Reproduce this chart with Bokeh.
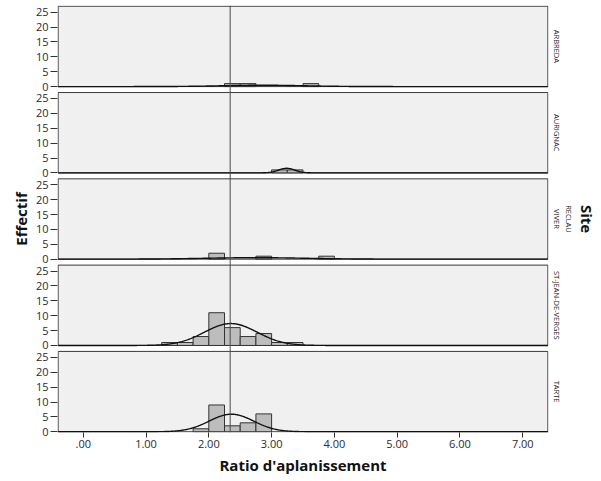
import numpy as np
from bokeh.plotting import figure
from bokeh.models import Range1d, FixedTicker, Span, LinearAxis
from bokeh.embed import file_html
from bokeh.resources import INLINE

# ---------------- data ----------------
SITES = ["ARBREDA", "AURIGNAC", "RECLAU\nVIVER", "ST-JEAN-DE-VERGES", "TARTE"]
BIN_WIDTH = 0.25

ARBREDA_BINS = [2.25, 2.50, 3.50]
ARBREDA_COUNTS = [1, 1, 1]
AURIGNAC_BINS = [3.00, 3.25]
AURIGNAC_COUNTS = [1, 1]
RECLAU_BINS = [2.00, 2.75, 3.75]
RECLAU_COUNTS = [2, 1, 1]
STJEAN_BINS = [1.25, 1.50, 1.75, 2.00, 2.25, 2.50, 2.75, 3.00, 3.25]
STJEAN_COUNTS = [1, 1, 3, 11, 6, 3, 4, 1, 1]
TARTE_BINS = [1.75, 2.00, 2.25, 2.50, 2.75]
TARTE_COUNTS = [1, 9, 2, 3, 6]

# fitted normal curve parameters per site (mean, standard deviation)
FIT_MEAN = [2.87, 3.24, 2.75, 2.35, 2.36]
FIT_SD = [0.66, 0.13, 0.80, 0.42, 0.355]
OVERALL_MEAN = 2.34

YTICKS = [0, 5, 10, 15, 20, 25]
XTICKS = [0, 1, 2, 3, 4, 5, 6, 7]
XTICK_LABELS = [".00", "1.00", "2.00", "3.00", "4.00", "5.00", "6.00", "7.00"]

ALL_BINS = [ARBREDA_BINS, AURIGNAC_BINS, RECLAU_BINS, STJEAN_BINS, TARTE_BINS]
ALL_COUNTS = [ARBREDA_COUNTS, AURIGNAC_COUNTS, RECLAU_COUNTS, STJEAN_COUNTS, TARTE_COUNTS]

# ---------------- layout ----------------
FONT = "Open Sans"
N = len(SITES)
PANEL_SPAN = 27
PITCH = 29
X0, X1 = -0.40, 7.40
offsets = [(N - 1 - i) * PITCH for i in range(N)]

p = figure(width=601, height=481,
           x_range=Range1d(X0 - 0.01, X1 + 0.01),
           y_range=Range1d(-0.25, offsets[0] + PANEL_SPAN + 0.25),
           output_backend="svg", toolbar_location=None,
           min_border_left=57, min_border_right=53,
           min_border_top=5, min_border_bottom=49)
p.background_fill_color = "white"
p.border_fill_color = "white"
p.outline_line_color = None
p.xgrid.visible = False
p.ygrid.visible = False

# panels
p.quad(left=[X0] * N, right=[X1] * N, bottom=offsets,
       top=[o + PANEL_SPAN for o in offsets],
       fill_color="#f0f0f0", line_color="#3a3a3a", line_width=1)

xs = np.linspace(X0, X1, 600)
for i in range(N):
    off = offsets[i]
    bins = np.array(ALL_BINS[i], dtype=float)
    counts = np.array(ALL_COUNTS[i], dtype=float)
    p.quad(left=bins, right=bins + BIN_WIDTH, bottom=[off] * len(bins),
           top=off + counts, fill_color="#bdbdbd", line_color="#333333",
           line_width=1)
    n = counts.sum()
    mu, sd = FIT_MEAN[i], FIT_SD[i]
    curve = n * BIN_WIDTH * np.exp(-0.5 * ((xs - mu) / sd) ** 2) / (sd * np.sqrt(2 * np.pi))
    p.line(xs, off + curve, line_color="#111111", line_width=1.4)

p.add_layout(Span(location=OVERALL_MEAN, dimension="height",
                  line_color="#4a4a4a", line_width=1))

# y axis
yt = [o + v for o in offsets for v in YTICKS]
p.yaxis.ticker = FixedTicker(ticks=yt, minor_ticks=[])
p.yaxis.major_label_overrides = {o + v: str(v) for o in offsets for v in YTICKS}
p.yaxis.axis_line_color = None
p.yaxis.major_tick_in = 0
p.yaxis.major_tick_out = 7
p.yaxis.major_tick_line_color = "#333333"
p.yaxis.major_label_standoff = 2
p.yaxis.major_label_text_font = FONT
p.yaxis.major_label_text_font_size = "11px"
p.yaxis.major_label_text_color = "#2b2b2b"
p.yaxis.axis_label = "Effectif"
p.yaxis.axis_label_text_font = FONT
p.yaxis.axis_label_text_font_size = "15px"
p.yaxis.axis_label_text_font_style = "bold"
p.yaxis.axis_label_text_color = "#111111"
p.yaxis.axis_label_standoff = 2

# right-hand site labels
centers = [o + PANEL_SPAN / 2 for o in offsets]
site_axis = LinearAxis(ticker=FixedTicker(ticks=centers, minor_ticks=[]),
                       major_label_overrides=dict(zip(centers, SITES)),
                       axis_line_color=None, major_tick_in=0, major_tick_out=0,
                       major_label_standoff=3,
                       major_label_orientation="parallel",
                       major_label_text_font=FONT,
                       major_label_text_font_size="7.5px",
                       major_label_text_color="#222222",
                       axis_label="Site", axis_label_text_font=FONT,
                       axis_label_text_font_size="15px",
                       axis_label_text_font_style="bold",
                       axis_label_text_color="#111111",
                       axis_label_standoff=0)
p.add_layout(site_axis, "right")

# x axis
p.xaxis.ticker = FixedTicker(ticks=XTICKS, minor_ticks=[])
p.xaxis.major_label_overrides = dict(zip(XTICKS, XTICK_LABELS))
p.xaxis.axis_line_color = None
p.xaxis.major_tick_in = 0
p.xaxis.major_tick_out = 5
p.xaxis.major_tick_line_color = "#333333"
p.xaxis.major_label_standoff = 2
p.xaxis.major_label_text_font = FONT
p.xaxis.major_label_text_font_size = "11px"
p.xaxis.major_label_text_color = "#2b2b2b"
p.xaxis.axis_label = "Ratio d'aplanissement"
p.xaxis.axis_label_text_font = FONT
p.xaxis.axis_label_text_font_size = "15px"
p.xaxis.axis_label_text_font_style = "bold"
p.xaxis.axis_label_text_color = "#111111"
p.xaxis.axis_label_standoff = 4

open("out.html", "w").write(file_html(p, INLINE))
